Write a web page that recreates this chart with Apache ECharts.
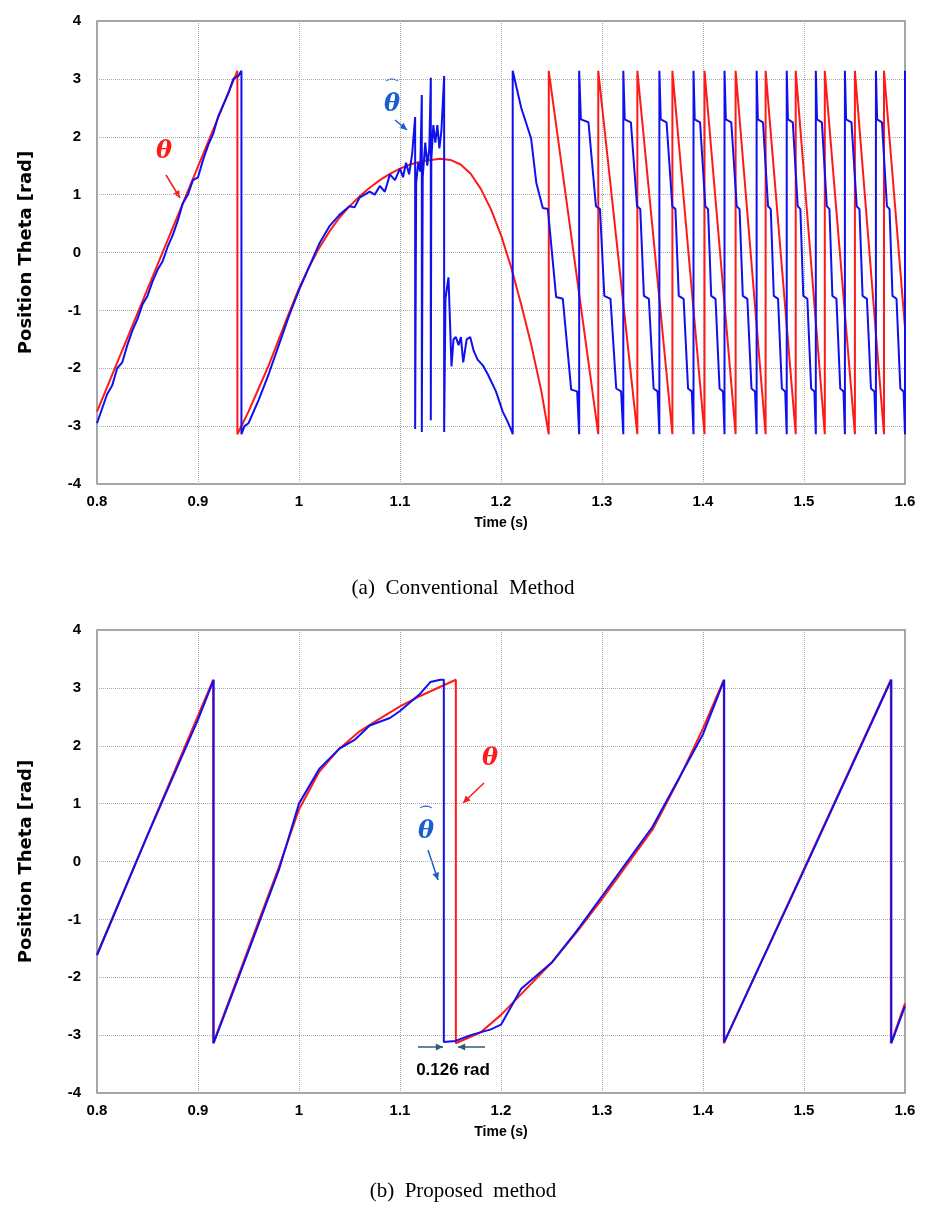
<!DOCTYPE html>
<html><head><meta charset="utf-8">
<script src="https://cdn.jsdelivr.net/npm/echarts@6/dist/echarts.min.js"></script>
<style>html,body{margin:0;padding:0;background:#fff}#c{width:926px;height:1225px}</style>
</head><body><div id="c"></div>
<script>
const xTicks=[0.8,0.9,1,1.1,1.2,1.3,1.4,1.5,1.6];
const yTicks=[-4,-3,-2,-1,0,1,2,3,4];
const captions=['(a)  Conventional  Method','(b)  Proposed  method'];
const topRed=[[0.8,-2.75],[0.939,3.14],[0.939,-3.14],[0.95,-2.75],[0.96,-2.35],[0.97,-1.95],[0.98,-1.5],[0.99,-1.05],[1.0,-0.62],[1.01,-0.25],[1.02,0.08],[1.03,0.36],[1.04,0.6],[1.05,0.8],[1.06,0.97],[1.07,1.12],[1.08,1.25],[1.09,1.36],[1.1,1.45],[1.11,1.52],[1.12,1.57],[1.13,1.6],[1.14,1.62],[1.15,1.6],[1.16,1.52],[1.17,1.36],[1.18,1.1],[1.19,0.75],[1.2,0.3],[1.21,-0.25],[1.22,-0.9],[1.23,-1.6],[1.24,-2.4],[1.2473,-3.14],
[1.2473,3.14],[1.2963,-3.14],[1.2963,3.14],[1.335,-3.14],[1.335,3.14],[1.3697,-3.14],[1.3697,3.14],[1.4015,-3.14],[1.4015,3.14],[1.4323,-3.14],[1.4323,3.14],[1.462,-3.14],[1.462,3.14],[1.4918,-3.14],[1.4918,3.14],[1.5206,-3.14],[1.5206,3.14],[1.5504,-3.14],[1.5504,3.14],[1.5792,-3.14],[1.5792,3.14],[1.6,-1.3]];
const topBlue=[[0.8,-2.95],[0.805,-2.7],[0.81,-2.45],[0.815,-2.3],[0.82,-2.0],[0.825,-1.9],[0.83,-1.6],[0.835,-1.35],[0.84,-1.15],[0.845,-0.9],[0.85,-0.75],[0.855,-0.5],[0.86,-0.3],[0.865,-0.15],[0.87,0.1],[0.875,0.3],[0.88,0.55],[0.885,0.85],[0.89,1.0],[0.895,1.25],[0.9,1.3],[0.905,1.6],[0.91,1.85],[0.915,2.05],[0.92,2.35],[0.925,2.55],[0.93,2.75],[0.935,3.0],[0.94,3.05],[0.943,3.14],[0.943,-3.14],[0.946,-3.0],[0.95,-2.95],[0.96,-2.55],[0.97,-2.1],[0.98,-1.6],[0.99,-1.1],[1.0,-0.65],[1.01,-0.25],[1.02,0.15],[1.03,0.45],[1.04,0.65],[1.05,0.8],[1.055,0.78],[1.06,0.95],[1.07,1.05],[1.075,1.0],[1.08,1.15],[1.085,1.05],[1.09,1.35],[1.095,1.25],[1.1,1.45],[1.103,1.3],[1.106,1.55],[1.109,1.35],[1.112,1.7],[1.115,2.34],[1.115,-3.05],[1.116,1.2],[1.118,1.55],[1.12,1.4],[1.1216,2.72],[1.1216,-3.1],[1.1225,1.3],[1.125,1.9],[1.127,1.5],[1.129,1.8],[1.1305,3.02],[1.1305,-2.9],[1.131,1.6],[1.133,2.2],[1.135,1.9],[1.137,2.2],[1.139,1.8],[1.141,2.1],[1.1437,3.05],[1.1437,-3.1],[1.145,-0.8],[1.148,-0.43],[1.151,-1.97],[1.153,-1.5],[1.1553,-1.46],[1.158,-1.6],[1.1603,-1.46],[1.1626,-1.9],[1.166,-1.5],[1.1695,-1.46],[1.173,-1.7],[1.1768,-1.85],[1.182,-1.95],[1.1868,-2.1],[1.195,-2.4],[1.2017,-2.75],[1.206,-2.9],[1.2109,-3.1],[1.2116,-3.14],
[1.2116,3.14],[1.22,2.5],[1.2298,1.97],[1.235,1.2],[1.2414,0.77],[1.2464,0.75],[1.2546,-0.77],[1.2612,-0.8],[1.2695,-2.37],[1.2754,-2.4],[1.2774,-3.14],
[1.2774,3.14],[1.2791,2.3],[1.2866,2.25],[1.294,0.8],[1.298,0.75],[1.3023,-0.75],[1.3084,-0.8],[1.3141,-2.35],[1.3189,-2.4],[1.3211,-3.14],
[1.3211,3.14],[1.3225,2.3],[1.3286,2.25],[1.3347,0.8],[1.3379,0.75],[1.3415,-0.75],[1.3464,-0.8],[1.3511,-2.35],[1.355,-2.4],[1.3568,-3.14],
[1.3568,3.14],[1.3582,2.3],[1.3639,2.25],[1.3696,0.8],[1.3727,0.75],[1.376,-0.75],[1.3808,-0.8],[1.3852,-2.35],[1.3889,-2.4],[1.3906,-3.14],
[1.3906,3.14],[1.3918,2.3],[1.3971,2.25],[1.4023,0.8],[1.405,0.75],[1.4081,-0.75],[1.4124,-0.8],[1.4164,-2.35],[1.4198,-2.4],[1.4213,-3.14],
[1.4213,3.14],[1.4226,2.3],[1.428,2.25],[1.4334,0.8],[1.4362,0.75],[1.4394,-0.75],[1.4439,-0.8],[1.448,-2.35],[1.4515,-2.4],[1.4531,-3.14],
[1.4531,3.14],[1.4543,2.3],[1.4594,2.25],[1.4644,0.8],[1.4671,0.75],[1.4701,-0.75],[1.4743,-0.8],[1.4781,-2.35],[1.4814,-2.4],[1.4829,-3.14],
[1.4829,3.14],[1.4841,2.3],[1.4889,2.25],[1.4938,0.8],[1.4964,0.75],[1.4993,-0.75],[1.5033,-0.8],[1.5071,-2.35],[1.5103,-2.4],[1.5117,-3.14],
[1.5117,3.14],[1.5129,2.3],[1.5177,2.25],[1.5226,0.8],[1.5252,0.75],[1.5281,-0.75],[1.5321,-0.8],[1.5359,-2.35],[1.5391,-2.4],[1.5405,-3.14],
[1.5405,3.14],[1.5417,2.3],[1.547,2.25],[1.5522,0.8],[1.5549,0.75],[1.558,-0.75],[1.5623,-0.8],[1.5663,-2.35],[1.5697,-2.4],[1.5712,-3.14],
[1.5712,3.14],[1.5724,2.3],[1.5772,2.25],[1.5821,0.8],[1.5847,0.75],[1.5876,-0.75],[1.5916,-0.8],[1.5954,-2.35],[1.5986,-2.4],[1.6,-3.14],[1.6,3.14]];
const botRed=[[0.8,-1.6],[0.915,3.14],[0.915,-3.14],[0.95,-1.5],[0.98,-0.1],[1.0,0.9],[1.02,1.55],[1.04,1.95],[1.06,2.25],[1.08,2.47],[1.1,2.68],[1.12,2.86],[1.14,3.02],[1.1553,3.14],[1.1553,-3.14],[1.18,-2.95],[1.2,-2.65],[1.225,-2.2],[1.25,-1.75],[1.275,-1.22],[1.3,-0.65],[1.325,-0.05],[1.35,0.55],[1.375,1.38],[1.4,2.3],[1.4206,3.14],[1.4206,-3.14],[1.5,-0.13],[1.586,3.14],[1.586,-3.14],[1.6,-2.45]];
const botBlue=[[0.8,-1.62],[0.85,0.45],[0.9,2.45],[0.9155,3.14],[0.9155,-3.14],[0.95,-1.55],[0.98,-0.15],[1.0,1.0],[1.02,1.6],[1.04,1.95],[1.055,2.1],[1.07,2.35],[1.09,2.48],[1.1,2.6],[1.12,2.9],[1.13,3.1],[1.14,3.14],[1.1434,3.14],[1.1434,-3.12],[1.155,-3.1],[1.17,-3.0],[1.19,-2.9],[1.2,-2.82],[1.22,-2.2],[1.25,-1.75],[1.275,-1.2],[1.3,-0.6],[1.325,0.0],[1.35,0.6],[1.375,1.4],[1.4,2.2],[1.421,3.14],[1.421,-3.12],[1.5,-0.15],[1.5865,3.14],[1.5865,-3.14],[1.6,-2.5]];

const chart=echarts.init(document.getElementById('c'));
const font='"Liberation Sans", Arial, sans-serif';
function xa(i){return {type:'value',gridIndex:i,min:0.8,max:1.6,interval:0.1,
 axisLabel:{color:'#000',fontSize:15,fontWeight:'bold',fontFamily:font,margin:10,formatter:v=>String(+v.toFixed(1))},
 axisLine:{show:false},axisTick:{show:false},
 splitLine:{lineStyle:{color:'#aaa',type:'dotted'}},
 name:'Time (s)',nameLocation:'middle',nameGap:32,nameTextStyle:{color:'#000',fontSize:14,fontWeight:'bold',fontFamily:font}};}
function ya(i){return {type:'value',gridIndex:i,min:-4,max:4,interval:1,
 axisLabel:{color:'#000',fontSize:15,fontWeight:'bold',fontFamily:font,margin:16},
 axisLine:{show:false},axisTick:{show:false},
 splitLine:{lineStyle:{color:'#aaa',type:'dotted'}},
 name:'Position Theta [rad]',nameLocation:'middle',nameGap:62,nameTextStyle:{color:'#000',fontSize:18,fontWeight:'bold',fontFamily:'"DejaVu Sans", sans-serif'}};}
function s(data,color,i){return {type:'line',xAxisIndex:i,yAxisIndex:i,data,showSymbol:false,symbol:'none',lineStyle:{color,width:2},silent:true,animation:false,clip:true};}
const arrow=(x1,y1,x2,y2,c)=>{const a=Math.atan2(y2-y1,x2-x1),L=8,w=0.45;return [
 {type:'line',shape:{x1,y1,x2,y2},style:{stroke:c,lineWidth:1.5}},
 {type:'polygon',shape:{points:[[x2,y2],[x2-L*Math.cos(a-w),y2-L*Math.sin(a-w)],[x2-L*Math.cos(a+w),y2-L*Math.sin(a+w)]]},style:{fill:c}}];};
const th=(x,y,c,hat)=>{const r=[{type:'text',x,y,style:{text:'θ',fill:c,font:'italic bold 24px "DejaVu Serif", serif'}}];
 if(hat) r.push({type:'text',x:x+1,y:y-14,style:{text:'⌒',fill:c,font:'bold 14px "DejaVu Sans", sans-serif'}});return r;};
chart.setOption({
 animation:false,
 grid:[{left:97,top:21,width:808,height:463,show:true,borderColor:'#888',borderWidth:1.5},
       {left:97,top:630,width:808,height:463,show:true,borderColor:'#888',borderWidth:1.5}],
 xAxis:[xa(0),xa(1)],yAxis:[ya(0),ya(1)],
 series:[s(topRed,'#ff1a1a',0),s(topBlue,'#1010ee',0),s(botRed,'#ff1a1a',1),s(botBlue,'#1010ee',1)],
 graphic:[
  {type:'text',x:463,y:578,style:{text:captions[0],fill:'#000',font:'21px "Liberation Serif", serif',textAlign:'center'}},
  {type:'text',x:463,y:1181,style:{text:captions[1],fill:'#000',font:'21px "Liberation Serif", serif',textAlign:'center'}},
  ...th(156,140,'#ff1a1a',false),...arrow(166,175,180,198,'#ff1a1a'),
  ...th(384,93,'#1a5fd0',true),...arrow(395,120,407,130,'#1a5fd0'),
  ...th(418,820,'#1a5fd0',true),...arrow(428,850,438,880,'#1a5fd0'),
  ...th(482,747,'#ff1a1a',false),...arrow(484,783,463,803,'#ff1a1a'),
  ...arrow(418,1047,443,1047,'#2a6070'),...arrow(485,1047,458,1047,'#2a6070'),
  {type:'text',x:453,y:1062,style:{text:'0.126 rad',fill:'#000',font:'bold 17px "Liberation Sans", Arial, sans-serif',textAlign:'center'}}
 ]
});
</script></body></html>
